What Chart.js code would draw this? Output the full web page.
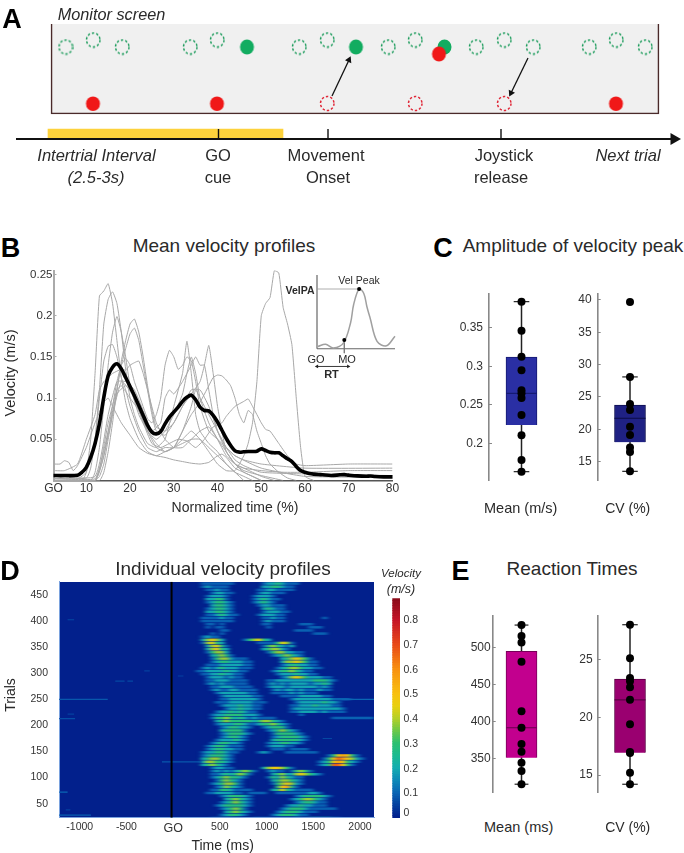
<!DOCTYPE html>
<html><head><meta charset="utf-8">
<script src="https://cdn.jsdelivr.net/npm/chart.js@4"></script>
<style>
html,body{margin:0;padding:0;background:#fff}
#p{position:relative;width:684px;height:853px;overflow:hidden;font-family:"Liberation Sans",Arial,sans-serif;color:#2a2a2a}
canvas{position:absolute}
.t{position:absolute;white-space:nowrap;transform:translate(-50%,-50%);line-height:1}
</style></head><body>
<svg width="0" height="0" style="position:absolute"><filter id="hb" x="-5%" y="-5%" width="110%" height="110%" color-interpolation-filters="sRGB"><feGaussianBlur stdDeviation="2.2 0.6"/></filter></svg>
<div id="p"></div>
<script>
// ---------- Panel A (schematic values, in screen units of the diagram)
const aGreenDashedX=[65.5,93,122,190,217,299,327,388,415,476,504,533,589,616,645];
const aGreenDashedY=[47,40,47,47,40,47,40,47,40,47,40,47,47,40,47];
const aGreenFilledX=[247,356,444.5];
const aGreenFilledY=[47,47,47];
const aRedFilledX=[93,217,616,439];
const aRedFilledY=[103.5,103.5,103.5,54];
const aRedDashedX=[327,415,504];
const aRedDashedY=[103.5,103.5,103.5];
const aEventX=[218.5,328,501];
// ---------- Panel B
const bXTicks=[2.5,10,20,30,40,50,60,70,80];
const bYTicks=[0.05,0.1,0.15,0.2,0.25];
const bMean=[[2.5,.006],[5,.006],[8,.0065],[9,.010],[10,.016],[11,.028],[12,.045],[13,.069],[14,.101],[15,.127],[16,.1375],[17,.1416],[18,.1355],[19,.125],[20,.114],[21,.103],[22,.091],[23,.079],[24,.067],[25,.0587],[26,.0566],[27,.0595],[28,.0688],[29,.0769],[30,.083],[31,.089],[32,.096],[33,.101],[34,.1036],[35,.098],[36,.089],[37,.085],[38,.0845],[39,.079],[40,.071],[41,.061],[42,.051],[43,.0425],[44,.036],[45,.0344],[46,.0348],[47,.0352],[48,.0352],[49,.0356],[50,.0384],[51,.0364],[52,.0344],[53,.0336],[54,.0336],[55,.030],[56,.0263],[57,.023],[58,.017],[59,.012],[60,.010],[61,.0085],[62,.0077],[63,.0073],[64,.0069],[66,.0061],[68,.0069],[69,.0071],[70,.0065],[72,.0056],[74,.0052],[75,.0054],[76,.0048],[78,.0044],[80,.0044]];
const bG1=[[2.5,0],[9,0],[10,.01],[11,.05],[12,.13],[13,.224],[14,.23],[15,.239],[16,.215],[17,.17],[18,.125],[19,.095],[20,.075],[22,.05],[24,.035],[26,.03],[28,.035],[30,.04],[32,.045],[34,.05],[36,.05],[38,.04],[40,.03],[42,.02],[44,.01],[46,.005],[48,0]];
const bG2=[[2.5,.002],[10,.003],[11,.015],[12,.05],[13,.11],[14,.19],[15,.22],[16,.229],[17,.215],[18,.18],[19,.135],[20,.1],[21,.08],[22,.065],[24,.045],[26,.04],[28,.05],[30,.09],[32,.13],[33,.169],[34,.13],[35,.08],[36,.06],[38,.045],[40,.035],[42,.02],[44,.01],[46,0]];
const bG3=[[2.5,0],[11,0],[12,.01],[13,.04],[14,.09],[15,.14],[16,.18],[17,.199],[18,.18],[19,.15],[20,.115],[22,.08],[24,.06],[26,.05],[28,.06],[30,.08],[32,.105],[33,.13],[34,.15],[35,.13],[36,.1],[38,.07],[40,.05],[42,.03],[44,.02],[46,.015],[48,.01],[50,.005],[53,0]];
const bG4=[[2.5,.003],[8,.002],[10,.01],[12,.05],[13,.10],[14,.145],[15,.163],[16,.165],[17,.15],[18,.125],[19,.11],[20,.09],[22,.06],[24,.04],[26,.035],[28,.04],[30,.04],[32,.06],[34,.09],[35,.11],[36,.10],[38,.08],[40,.06],[42,.04],[44,.025],[46,.018],[50,.01],[60,.008],[80,.006]];
const bG5=[[2.5,0],[12,0],[13,.005],[14,.02],[15,.05],[16,.08],[17,.11],[18,.145],[19,.17],[20,.19],[21,.196],[22,.18],[23,.15],[24,.115],[25,.085],[26,.065],[28,.06],[30,.07],[32,.09],[34,.11],[36,.11],[38,.09],[40,.06],[42,.035],[44,.02],[46,.01],[48,.005],[50,0]];
const bG6=[[2.5,0],[13,0],[14,.01],[15,.035],[16,.07],[17,.11],[18,.14],[19,.16],[20,.178],[21,.185],[22,.17],[23,.14],[24,.11],[25,.08],[26,.06],[28,.055],[30,.07],[32,.09],[34,.105],[36,.12],[37,.14],[38,.164],[39,.13],[40,.09],[41,.06],[42,.035],[44,.02],[46,.012],[50,.006],[55,0]];
const bG7=[[2.5,.012],[5,.012],[8,.02],[10,.05],[12,.08],[13,.11],[14,.12],[15,.125],[16,.13],[18,.135],[19,.134],[20,.14],[21,.143],[22,.145],[23,.13],[24,.11],[26,.07],[28,.05],[30,.04],[32,.04],[34,.05],[36,.06],[38,.065],[40,.05],[42,.035],[44,.02],[46,.015],[50,.012],[55,.01],[60,.01],[70,.012],[80,.012]];
const bG8=[[2.5,0],[12,0],[14,.03],[16,.09],[17,.12],[18,.14],[19,.148],[20,.14],[21,.12],[22,.105],[24,.075],[25,.07],[26,.08],[27,.1],[28,.14],[29,.158],[30,.15],[31,.135],[32,.14],[33,.15],[34,.145],[35,.12],[36,.09],[38,.06],[40,.05],[42,.04],[44,.03],[50,.015],[60,.005],[80,.004]];
const bG9=[[2.5,.02],[4,.02],[5,.024],[6,.022],[7,.012],[8,.018],[10,.04],[12,.07],[14,.095],[15,.1],[16,.09],[18,.07],[20,.055],[22,.04],[24,.033],[26,.03],[28,.028],[30,.025],[32,.023],[34,.021],[36,.02],[38,.022],[40,.03],[41,.032],[42,.028],[44,.015],[46,.01],[48,.005],[50,0]];
const bG10=[[2.5,0],[12,0],[14,.03],[16,.08],[18,.12],[20,.11],[22,.085],[24,.06],[26,.04],[28,.035],[30,.04],[32,.05],[34,.06],[36,.05],[38,.035],[40,.02],[42,.012],[44,.012],[46,.03],[47,.045],[48,.07],[49,.12],[50,.2],[51,.215],[52,.222],[53,.255],[54,.252],[55,.21],[56,.19],[57,.165],[58,.1],[59,.04],[60,.005],[62,0]];
const bG11=[[2.5,0],[12,0],[15,.07],[17,.11],[18,.115],[20,.10],[22,.085],[24,.06],[26,.045],[28,.035],[30,.04],[32,.06],[34,.08],[36,.095],[38,.115],[39,.125],[40,.128],[41,.127],[42,.122],[43,.115],[44,.1],[45,.08],[46,.07],[47,.085],[48,.08],[49,.06],[50,.045],[51,.03],[52,.02],[54,.01],[56,.003],[58,0]];
const bG12=[[2.5,.002],[12,.002],[15,.06],[17,.105],[19,.115],[21,.1],[23,.07],[25,.045],[27,.04],[29,.045],[31,.05],[33,.048],[35,.04],[37,.05],[39,.065],[41,.07],[42,.078],[44,.09],[46,.096],[47,.099],[48,.09],[49,.08],[50,.07],[51,.062],[52,.06],[54,.045],[56,.03],[58,.02],[60,.018],[70,.02],[80,.02]];
const bG13=[[2.5,.005],[12,.005],[15,.08],[17,.12],[19,.12],[21,.11],[23,.085],[25,.06],[27,.07],[28,.1],[29,.11],[30,.105],[32,.12],[34,.14],[35,.15],[36,.14],[37,.14],[38,.11],[39,.08],[40,.06],[42,.04],[44,.03],[46,.025],[50,.02],[60,.015],[80,.015]];
const bGray=[bG1,bG2,bG3,bG4,bG5,bG6,bG7,bG8,bG9,bG10,bG11,bG12,bG13];
// inset of B
const insetCurve=[[1,.03],[11,.06],[21,.01],[34,.08],[43,.35],[47,.6],[54,.81],[60,.75],[64,.57],[68,.42],[77,.10],[89,.04],[100,.17]];
const insetPeak=[54,.81], insetMO=[35,.12];
// ---------- Panels C and E
const cMeanPts=[.3838,.346,.3125,.295,.269,.265,.259,.237,.2106,.1787,.1636];
const cMeanBox={q1:.224,med:.265,q3:.312,lo:.1636,hi:.3838};
const cMeanTicks=[.2,.25,.3,.35];
const cCvPts=[39.7,28.1,23.9,23,20.4,19.1,17.2,16.5,13.5];
const cCvBox={q1:18,med:21.7,q3:23.76,lo:13.5,hi:28.1};
const cCvTicks=[15,20,25,30,35,40];
const eMeanPts=[530.7,515.8,507,481,414,391.6,369.5,359,344,333,315];
const eMeanBox={q1:351,med:391.6,q3:495,lo:315,hi:530.7};
const eMeanTicks=[350,400,450,500];
const eCvPts=[28,25.1,23.4,23.1,22.6,21.5,19.4,17,16.9,15.2,14.2];
const eCvBox={q1:16.93,med:21.5,q3:23.3,lo:14.2,hi:28};
const eCvTicks=[15,20,25];
// ---------- Panel D
const dXTicks=[-1000,-500,0,500,1000,1500,2000];
const dYTicks=[50,100,150,200,250,300,350,400,450];
const cbTicks=[.02,.1,.2,.3,.4,.5,.6,.7,.8];
const cmapLevels=[0,.05,.1,.15,.2,.25,.3,.35,.4,.45,.5,.6,.7,.8,.89];
const cmapColors=['#02208c','#04409f','#0a66b4','#0e8ab8','#14adb0','#1cbb90','#2cc070','#6cc848','#b4d028','#e8d010','#f8c010','#f89010','#e84818','#c41428','#860a18'];
const heatStartMs=200, heatStepMs=50, heatRowSpan=6, heatUnit=.095;
const heatRowTrials=[473,467,461,455,449,443,437,431,425,419,413,407,401,395,389,383,377,371,365,359,353,347,341,335,329,323,317,311,305,299,293,287,281,275,269,263,257,251,245,239,233,227,221,215,209,203,197,191,185,179,173,167,161,155,149,143,137,131,125,119,113,107,101,95,89,83,77,71,65,59,53,47,41,35,29,23];
const heatRows=[
"001111111000000122321110000000000000000",
"001211110000000223321100000000000000000",
"000112110000001122111100000000000000000",
"000012211000001221110000000000000000000",
"000122210000012221000000000000000000000",
"000223310000012321100000000000000000000",
"000123321000012321000000000000000000000",
"000023321000001221110000000000000000000",
"000123321000000232110000000000000000000",
"000223321000000122211000000000000000000",
"000112321100001222110000000000000000000",
"001111211000000112110000000010000000000",
"001111111000000121110000000000000000000",
"000110100000000110000001110000000000000",
"000101100000000010000000011100000000000",
"000000110000000000000011110000000000000",
"000010100000000000000000001110000000000",
"001211000000000000000000000000000000000",
"002454200001345320000000000000000000000",
"001453200000001111354100000000000000000",
"000245310000000134321200000000000000000",
"000245320000000234421000000000000000000",
"000134420000000013442211000000000000000",
"000023431000000001234321000000000000000",
"000013442111000000023454310000000000000",
"000012332221100000024454311000000000000",
"000111222221100000012332211000000000000",
"001212322211100000123443221100000000000",
"011222232211000001233432110000000000000",
"001122322110000000122232211000000000000",
"000122212110000000012454322211000000000",
"000112221111000011222222223332100000000",
"000121211111000012121222212232000000000",
"000011222111100012221222222121000000000",
"000012112211110001212212111211000000000",
"000001222222110001111212111000000000000",
"000000122222211000011112222211000000000",
"000000112222221000000122222222111100000",
"000001112222211100000012222232210000000",
"000000122232211000000112223222110000000",
"000000012232211000000122222222221000000",
"000001223232110000000112222121111000000",
"000012233332221000000001000000000000000",
"000013343232121111000000000000111111111",
"000002343333323443210000000000000000000",
"000001222332112334321000000000000000000",
"000000123322100123331000000000000000000",
"000000233331000012343210000000000000000",
"000000123332100001333321000000000000000",
"000000123321000001233332100000000000000",
"000001222321000002333332100000000000000",
"000012332210000012233221000000000000000",
"000123321110000012221100000000000000000",
"000123322110000001110111100000000000000",
"001223321100001210001111111000000000000",
"001233321000000000000000000001356531000",
"002344321000000000000000000013576542100",
"002443321000000000000000000123565321000",
"002343210000000000000000000123775310000",
"000012211000000245543100000000000000000",
"000012121234310012110134310000000000000",
"000011232343100002342245432100000000000",
"000012343321000013243211000000000000000",
"000001343210000002344321000000000000000",
"000012344310000001345421000000000000000",
"000001243210000000356310000000000000000",
"000011332111100002353211110000000000000",
"000112222110111100111111122100000000000",
"000000123332100000000012333321000000000",
"000000023432100000000123443210000000000",
"000000123432100000000012332110000000000",
"000001233332100000001223221110000000000",
"000000123431000000012333211111100000000",
"000000023432100000123332111000000000000",
"000000123321000001233321100000000000000",
"000011222110011111111122122222110000000"];
// isolated faint streaks: trial, start ms, end ms, velocity
const heatStreaks=[[250,-1220,-700,.08],[213,-1220,-1050,.07],[222,-1130,-1060,.05],[285,-620,-520,.06],[285,-490,-430,.06],[72,-1220,-1130,.1],[28,-1220,-880,.09],[38,-1150,-1100,.05],[403,-1130,-1060,.06],[305,-310,-250,.05],[130,-120,300,.08],[295,50,110,.05],[250,1800,2150,.1],[175,1600,1700,.06]];

// ---------- helpers
const P=document.getElementById('p');
const FONT='"Liberation Sans",Arial,sans-serif';
Chart.defaults.font.family=FONT;
function t(s,cx,cy,size,o={}){const d=document.createElement('div');d.className='t';d.textContent=s;
 d.style.left=cx+'px';d.style.top=cy+'px';d.style.fontSize=size+'px';
 if(o.i)d.style.fontStyle='italic';if(o.b)d.style.fontWeight='bold';if(o.c)d.style.color=o.c;
 if(o.r)d.style.transform='translate(-50%,-50%) rotate(-90deg)';
 if(o.ra)d.style.transform='translate(-100%,-50%)';
 d.style.zIndex=5;P.appendChild(d);}
function mk(L,T,W,H,m0,cfg,parent,cssFilter){
 // the canvas sits on whole pixels; margins take up the fractions so that the plot area is exact
 const left=Math.floor(L-m0.l), top=Math.floor(T-m0.t);
 const m={l:L-left,t:T-top};
 const cw=Math.ceil(m.l+W+m0.r), ch=Math.ceil(m.t+H+m0.b);
 m.r=cw-m.l-W; m.b=ch-m.t-H;
 const c=document.createElement('canvas');c.width=cw;c.height=ch;
 c.style.left=left+'px';c.style.top=top+'px';
 if(cssFilter)c.style.filter=cssFilter;
 (parent||P).appendChild(c);
 const sc=cfg.options.scales;
 const yVis=sc.y.display!==false, xVis=sc.x.display!==false, yRight=sc.y.position==='right';
 cfg.options=Object.assign({responsive:false,animation:false,events:[],
  plugins:{legend:{display:false},tooltip:{enabled:false}},
  layout:{autoPadding:false,padding:{left:yVis&&!yRight?0:m.l,right:yVis&&yRight?0:m.r,top:m.t,bottom:xVis?0:m.b}}},cfg.options);
 for(const k of ['x','y']){const a=sc[k];const hor=k==='x';
  if(a.display===false)continue;
  a.afterFit=s=>{if(hor)s.height=m.b;else s.width=yRight?m.r:m.l;s.paddingLeft=s.paddingRight=s.paddingTop=s.paddingBottom=0;};
 }
 return new Chart(c,cfg);
}
function axis(min,max,vals,o={}){
 const inward=o.inward||0;
 return {type:'linear',min,max,display:o.display!==false,position:o.position,offset:false,
  afterBuildTicks:s=>{s.ticks=(vals||[]).map(v=>({value:v}));},
  border:{display:o.border!==false,color:o.bc||'#888',width:o.bw||1.5},
  grid:{display:!!inward,drawOnChartArea:false,drawTicks:true,tickLength:-inward,color:o.bc||'#888',tickWidth:1},
  ticks:{autoSkip:false,maxRotation:0,minRotation:0,padding:(o.pad===undefined?4:o.pad)+inward,color:o.tc||'#333',
   font:o.font||{size:o.fs||12},callback:o.cb||(v=>String(v))}};
}
function dot(color,dashed,w,h){const c=document.createElement('canvas');c.width=w+3;c.height=h+3;const x=c.getContext('2d');
 x.beginPath();x.ellipse((w+3)/2,(h+3)/2,w/2,h/2,0,0,Math.PI*2);
 if(dashed){x.setLineDash([2.4,2]);x.lineWidth=1.5;x.strokeStyle=color;x.stroke();}else{x.fillStyle=color;x.fill();}
 return c;}
const zip=(a,b)=>a.map((v,i)=>({x:v,y:b[i]}));
const lineDs=(data,color,w,extra={})=>Object.assign({type:'line',data,borderColor:color,borderWidth:w,pointRadius:0,tension:0,fill:false,clip:false},extra);
const ptsDs=(data,style,extra={})=>Object.assign({type:'line',data,showLine:false,pointStyle:style,pointRadius:6,pointBackgroundColor:'#000',pointBorderWidth:0,clip:false},extra);

// ---------- Panel A chart
const tlY=139;
mk(0,0,684,200,{l:0,t:0,r:0,b:0},{type:'bar',data:{datasets:[
 ptsDs(zip(aRedFilledX.slice(3),aRedFilledY.slice(3)),dot('#f01818',false,14,15)),
 ptsDs(zip(aGreenFilledX,aGreenFilledY),dot('#12ac60',false,14,15)),
 ptsDs(zip(aRedFilledX.slice(0,3),aRedFilledY.slice(0,3)),dot('#f01818',false,14,14.5)),
 ptsDs(zip(aGreenDashedX,aGreenDashedY),dot('#1c9c5c',true,13.5,14)),
 ptsDs(zip(aRedDashedX,aRedDashedY),dot('#e02838',true,13.5,14)),
 lineDs([{x:332,y:96},{x:349,y:60}],'#111',1.3,{pointRadius:[0,4],pointStyle:'triangle',pointRotation:25,pointBackgroundColor:'#111',pointBorderWidth:0}),
 lineDs([{x:528,y:58},{x:511,y:93}],'#111',1.3,{pointRadius:[0,4],pointStyle:'triangle',pointRotation:206,pointBackgroundColor:'#111',pointBorderWidth:0}),
 lineDs([{x:16,y:tlY},{x:674,y:tlY}],'#111',1.8,{pointRadius:[0,7],pointStyle:'triangle',pointRotation:90,pointBackgroundColor:'#111',pointBorderWidth:0}),
 lineDs([{x:aEventX[0],y:129},{x:aEventX[0],y:tlY}],'#111',1.4),
 lineDs([{x:aEventX[1],y:129},{x:aEventX[1],y:tlY}],'#111',1.4),
 lineDs([{x:aEventX[2],y:129},{x:aEventX[2],y:tlY}],'#111',1.4),
 {type:'bar',grouped:false,data:[{x:165.5,y:[129,139]}],backgroundColor:'#fdd23c',barThickness:235,borderWidth:0},
 {type:'bar',grouped:false,data:[{x:355,y:[24,114]}],backgroundColor:'#f0f0f0',borderColor:'#4a2a2a',borderWidth:1.6,barThickness:608}
]},options:{scales:{x:axis(0,684,[],{display:false}),y:Object.assign(axis(0,200,[],{display:false}),{reverse:true})}}});
t('A',12,19,27,{b:1,c:'#000'});
t('Monitor screen',111.5,14,16.3,{i:1});
t('Intertrial Interval',96.5,155,16.5,{i:1});t('(2.5-3s)',96,177,16.5,{i:1});
t('GO',218,155,16.5);t('cue',218,177,16.5);
t('Movement',326,155,16.5);t('Onset',328,177,16.5);
t('Joystick',504,155,16.5);t('release',501,177,16.5);
t('Next trial',628,155,16.5,{i:1});

// ---------- Panel B chart
mk(53.5,270.5,339,210,{l:50,t:3,r:12,b:20},{type:'line',data:{datasets:[
 lineDs(bMean,'#000',3.6,{tension:.3,clip:true,borderCapStyle:'round',borderJoinStyle:'round'}),
 ...bGray.map(g=>lineDs(g,'#a8a8a8',1,{tension:.15,clip:true}))
]},options:{scales:{
 x:axis(2.5,80,bXTicks,{bc:'#555',bw:1.5,pad:1,fs:12,cb:v=>v===2.5?'GO':String(v)}),
 y:axis(0,.2549,bYTicks,{bc:'#aaa',bw:2,inward:3,pad:1,fs:11.5})}}});
t('B',10.5,248,27,{b:1,c:'#000'});
t('Mean velocity profiles',224,245,19);
t('Normalized time (%)',235,507,14);
t('Velocity (m/s)',10,373,14.5,{r:1});

// inset
mk(317,275,78,104,{l:4,t:2,r:2,b:2},{type:'line',data:{datasets:[
 ptsDs([{x:insetPeak[0],y:insetPeak[1]},{x:insetMO[0],y:insetMO[1]}],'circle',{pointRadius:2}),
 lineDs(insetCurve,'#a0a0a0',1.5,{tension:.35}),
 lineDs([{x:0,y:insetPeak[1]},{x:insetPeak[0],y:insetPeak[1]}],'#999',.8),
 lineDs([{x:insetMO[0],y:insetMO[1]},{x:insetMO[0],y:-.06}],'#777',.8),
 lineDs([{x:0,y:0},{x:0,y:1}],'#666',1.2),
 lineDs([{x:0,y:0},{x:100,y:0}],'#666',1.2),
 lineDs([{x:0,y:-.24},{x:40,y:-.24}],'#222',.9,{pointRadius:2.2,pointStyle:'triangle',pointRotation:[270,90],pointBackgroundColor:'#222',pointBorderWidth:0})
]},options:{scales:{x:axis(0,100,[],{display:false}),y:axis(-.41,1,[],{display:false})}}});
t('Vel Peak',359,280,10.5);
t('VelPA',314.5,289.5,10.5,{b:1,ra:1});
t('GO',316,358.5,11);t('MO',347,358.5,11);t('RT',331.5,373.5,11,{b:1});

// ---------- box plots
function boxChart(L,T,W,H,ymin,ymax,pts,box,ticks,color,medColor,pad){
 const h=15.5/W*2; // half box width in x-axis units
 mk(L,T,W,H,{l:45,t:4,r:45,b:4},{type:'bar',data:{datasets:[
  ptsDs(pts.map(v=>({x:0,y:v})),'circle',{pointRadius:4}),
  lineDs([{x:-h,y:box.med},{x:h,y:box.med}],medColor,1.2),
  {type:'bar',grouped:false,data:[{x:0,y:[box.q1,box.q3]}],backgroundColor:color,borderColor:medColor,borderWidth:1,barThickness:31},
  lineDs([{x:0,y:box.lo},{x:0,y:box.hi}],'#222',1.5),
  lineDs([{x:-.24,y:box.hi},{x:.24,y:box.hi}],'#222',1.2),
  lineDs([{x:-.24,y:box.lo},{x:.24,y:box.lo}],'#222',1.2)
 ]},options:{scales:{x:axis(-1,1,[],{display:false}),
  y:axis(ymin,ymax,ticks,{bc:'#888',bw:1.6,inward:3,pad:pad,fs:12})}}});
}
boxChart(489,293.3,65,186.7,.1528,.3946,cMeanPts,cMeanBox,cMeanTicks,'#2a2fa4','#151a70',6);
boxChart(597.7,293.3,64.6,186.7,12.16,41.03,cCvPts,cCvBox,cCvTicks,'#1f2184','#0e0f50',6);
boxChart(492.7,615.7,57.6,177,303.5,543.4,eMeanPts,eMeanBox,eMeanTicks,'#c2008e','#760058',2);
boxChart(597.7,615.7,64.6,177,13.47,28.78,eCvPts,eCvBox,eCvTicks,'#9a0070','#5a0044',5);
t('C',443,248,27,{b:1,c:'#000'});
t('Amplitude of velocity peak',573,245,19);
t('Mean (m/s)',520.7,507.7,14.5);t('CV (%)',627.7,507.7,14);
t('E',460.5,571,27,{b:1,c:'#000'});
t('Reaction Times',572,568,19);
t('Mean (ms)',518.7,826.7,14.5);t('CV (%)',627.7,826.7,14);

// ---------- Panel D heat map
function hex(s){return [1,3,5].map(i=>parseInt(s.substr(i,2),16));}
function colorOf(v){let i=0;while(i<cmapLevels.length-2&&v>cmapLevels[i+1])i++;
 const f=Math.min(1,Math.max(0,(v-cmapLevels[i])/(cmapLevels[i+1]-cmapLevels[i])));
 const a=hex(cmapColors[i]),b=hex(cmapColors[i+1]);
 return 'rgb('+a.map((c,k)=>Math.round(c+(b[k]-c)*f)).join(',')+')';}
const hX=[-1222,2153], hY=[23,476];
const cellData=[],cellColors=[];
heatRows.forEach((row,r)=>{[...row].forEach((d,i)=>{const v=+d*heatUnit;if(!v)return;
 const tr=heatRowTrials[r];cellData.push({x:heatStartMs+heatStepMs*(i+.5),y:[tr-heatRowSpan/2+.8,tr+heatRowSpan/2-.8]});cellColors.push(colorOf(v));});});
const streakDs=heatStreaks.map(s=>lineDs([{x:s[1],y:s[0]},{x:s[2],y:s[0]}],colorOf(s[3]),1.2,{clip:true}));
const wrap=document.createElement('div');
Object.assign(wrap.style,{position:'absolute',left:'59px',top:'581.7px',width:'315.3px',height:'236px',overflow:'hidden',background:colorOf(0)});
P.appendChild(wrap);
mk(0,0,315,236,{l:0,t:0,r:0,b:0},{type:'bar',data:{datasets:[
 {type:'bar',grouped:false,data:cellData,backgroundColor:cellColors,barThickness:5.2,borderWidth:0,inflateAmount:0.1}
]},options:{scales:{x:axis(hX[0],hX[1],[],{display:false}),y:axis(hY[0],hY[1],[],{display:false})}}},wrap,'url(#hb)');
mk(59,581.7,315.3,236,{l:45,t:3,r:5,b:20},{type:'line',data:{datasets:[
 lineDs([{x:-17,y:hY[0]},{x:-17,y:hY[1]}],'#000',2,{clip:true}),
 ...streakDs
]},options:{scales:{
 x:axis(hX[0],hX[1],dXTicks,{bc:'#7aa2de',bw:1,pad:3,cb:v=>v===0?'GO':String(v),font:c=>c.tick&&c.tick.value===0?{size:12.5}:{size:10.5}}),
 y:axis(hY[0],hY[1],dYTicks,{bc:'#7aa2de',bw:1,pad:11,fs:10.5})}}});
t('D',10,570.5,27,{b:1,c:'#000'});
t('Individual velocity profiles',223,568,19);
t('Time (ms)',222.7,845,14);
t('Trials',10,694.5,14,{r:1});

// colour bar
const cbLevels=[];for(let k=0;k<89;k++)cbLevels.push(k/100);
mk(392.3,598.3,7.7,219.7,{l:0,t:2,r:30,b:4},{type:'bar',data:{datasets:[
 {type:'bar',grouped:false,data:cbLevels.map(v=>({x:0,y:[v,v+.0105]})),backgroundColor:cbLevels.map(colorOf),barThickness:7.7,borderWidth:0}
]},options:{scales:{x:axis(-1,1,[],{display:false}),
 y:axis(0,.89,cbTicks,{position:'right',border:false,pad:3.5,fs:10.5,cb:v=>v<.05?'0':String(v)})}}});
t('Velocity',401,574,11.5,{i:1});t('(m/s)',401,589,12.5,{i:1});
</script></body></html>
